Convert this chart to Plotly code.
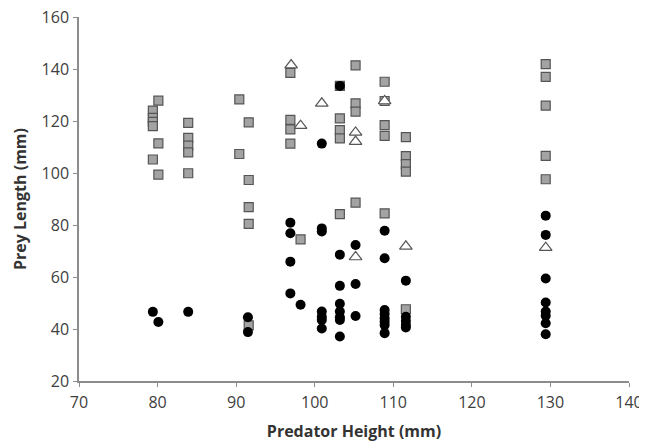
import plotly.graph_objects as go

# squares (grey)
sq_x = [79.4, 79.4, 79.4, 79.4, 79.4, 80.1, 80.1, 80.1,
        83.9, 83.9, 83.9, 83.9, 83.9, 90.4, 90.4,
        91.6, 91.6, 91.6, 91.6, 91.6, 96.9, 96.9, 96.9, 96.9, 98.2,
        103.2, 103.2, 103.2, 103.2, 103.2, 105.2, 105.2, 105.2, 105.2,
        108.9, 108.9, 108.9, 108.9, 108.9, 111.6, 111.6, 111.6, 111.6, 111.6,
        129.4, 129.4, 129.4, 129.4, 129.4]
sq_y = [124.0, 121.2, 119.7, 118.0, 105.2, 127.8, 111.4, 99.4,
        119.3, 113.5, 110.5, 107.9, 99.9, 128.3, 107.3,
        119.5, 97.3, 86.9, 80.4, 41.4, 138.5, 120.4, 116.8, 111.3, 74.5,
        133.5, 121.0, 116.5, 113.3, 84.2, 141.4, 126.8, 123.6, 88.6,
        135.1, 127.7, 118.4, 114.3, 84.5, 113.8, 106.5, 103.4, 100.5, 47.6,
        141.9, 137.0, 125.9, 106.6, 97.6]

# triangles (open)
tri_x = [97.0, 100.9, 98.2, 105.2, 105.2, 108.9, 105.2, 111.6, 129.4]
tri_y = [141.5, 126.8, 118.2, 115.6, 112.1, 127.7, 67.7, 71.8, 71.3]

# circles (black)
ci_x = [79.4, 80.1, 83.9, 91.5, 91.5,
        96.9, 96.9, 96.9, 96.9, 98.2,
        100.9, 100.9, 100.9, 100.9, 100.9, 100.9, 100.9,
        103.2, 103.2, 103.2, 103.2, 103.2, 103.2, 103.2, 103.2,
        105.2, 105.2, 105.2,
        108.9, 108.9, 108.9, 108.9, 108.9, 108.9, 108.9, 108.9,
        111.6, 111.6, 111.6, 111.6, 111.6,
        129.4, 129.4, 129.4, 129.4, 129.4, 129.4, 129.4, 129.4]
ci_y = [46.6, 42.7, 46.6, 44.5, 38.8,
        80.9, 76.8, 65.9, 53.7, 49.3,
        111.3, 78.7, 77.5, 46.7, 44.7, 43.5, 40.2,
        133.5, 68.6, 56.6, 49.7, 46.7, 44.5, 43.5, 37.1,
        72.3, 57.3, 45.0,
        77.8, 67.2, 47.3, 45.8, 44.1, 42.8, 41.5, 38.4,
        58.6, 44.7, 43.1, 41.5, 40.6,
        83.6, 76.2, 59.4, 50.2, 46.7, 45.1, 42.2, 38.0]

fig = go.Figure()
fig.add_trace(go.Scatter(x=sq_x, y=sq_y, mode="markers",
                         marker=dict(symbol="square", size=9, color="#a3a3a3",
                                     line=dict(color="#555555", width=1.2))))
fig.add_trace(go.Scatter(x=tri_x, y=tri_y, mode="markers",
                         marker=dict(symbol="triangle-up", size=11, color="white",
                                     line=dict(color="#555555", width=1.2))))
fig.add_trace(go.Scatter(x=ci_x, y=ci_y, mode="markers",
                         marker=dict(symbol="circle", size=10, color="black",
                                     line=dict(width=0))))

axis_style = dict(showline=True, linecolor="#8c8c8c", linewidth=1.5,
                  ticks="outside", ticklen=4, tickcolor="#8c8c8c",
                  showgrid=False, zeroline=False, automargin=False,
                  ticklabeloverflow="allow",
                  tickfont=dict(size=16, color="#404040"))

# page body has an 8px margin, so the figure is 8px smaller than the window
fig.update_layout(
    width=639, height=434,
    margin=dict(l=71, r=18, t=9, b=61),
    paper_bgcolor="white", plot_bgcolor="white",
    showlegend=False,
    font=dict(family="Open Sans", color="#333333"),
    xaxis=dict(range=[70, 140], dtick=10, ticklabelstandoff=2,
               title=dict(text="<b>Predator Height (mm)</b>", font=dict(size=16), standoff=14),
               **axis_style),
    yaxis=dict(range=[20, 160], dtick=20, ticklabelstandoff=1,
               title=dict(text="<b>Prey Length (mm)</b>", font=dict(size=16), standoff=11),
               **axis_style),
)

fig.write_html("out.html")
